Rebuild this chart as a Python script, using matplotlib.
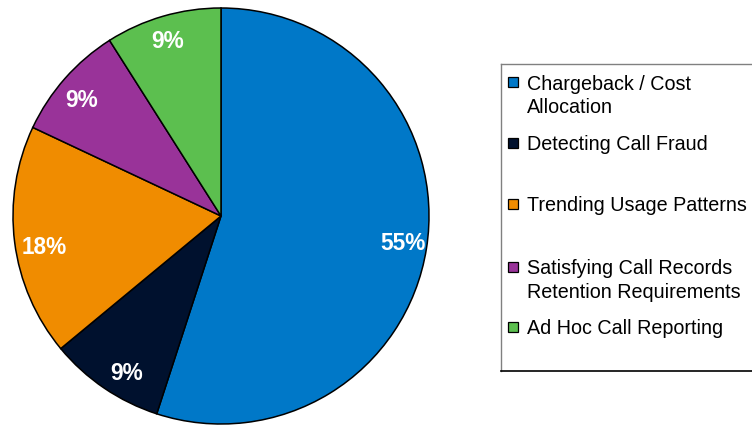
import matplotlib
matplotlib.use("Agg")
import matplotlib.pyplot as plt
from matplotlib.patches import Rectangle
import numpy as np

categories = ["Chargeback / Cost\nAllocation", "Detecting Call Fraud",
              "Trending Usage Patterns", "Satisfying Call Records\nRetention Requirements",
              "Ad Hoc Call Reporting"]
values = [55, 9, 18, 9, 9]
colors = ["#0078C8", "#00112E", "#F08C00", "#993399", "#5CBF4F"]

plt.rcParams['font.family'] = ['Liberation Sans', 'DejaVu Sans']

W, H = 752, 427
fig = plt.figure(figsize=(W/100, H/100), dpi=100)

ax = fig.add_axes([13/W, 2/H, 416/W, 416/H])
wedges, texts, autotexts = ax.pie(values, colors=colors, startangle=90, counterclock=False,
                                  autopct='%1.0f%%', pctdistance=0.88,
                                  wedgeprops=dict(edgecolor='black', linewidth=1.1),
                                  textprops=dict(color='white', fontsize=16.3, fontweight='bold'))
ax.set_xlim(-1, 1); ax.set_ylim(-1, 1)
ax.set_aspect('equal')

# per-label placement tweaks (angle shift deg, distance)
angle_shift = [0.6, 3, 2.5, 1.4, 0.6]
dist = [0.885, 0.88, 0.86, 0.875, 0.88]
total = float(sum(values))
cum = np.concatenate([[0], np.cumsum(values)[:-1]])
for v, c0, t, da, d in zip(values, cum, autotexts, angle_shift, dist):
    mid = 90 - 360 * (c0 + v / 2) / total
    ang = np.deg2rad(mid + da)
    t.set_position((d*np.cos(ang), d*np.sin(ang)))
    t.set_ha('center'); t.set_va('center')

# legend overlay
lax = fig.add_axes([0, 0, 1, 1])
lax.set_xlim(0, W); lax.set_ylim(H, 0)
lax.axis('off')
lax.plot([501, 501], [65, 372], color='#808080', lw=1.0)
lax.plot([501, 760], [65, 65], color='#808080', lw=1.0)
lax.plot([501, 760], [372, 372], color='black', lw=1.2)

text_y = [83, 144, 205, 268, 328]
for lab, c, y in zip(categories, colors, text_y):
    lax.add_patch(Rectangle((508, y - 5), 10, 10, facecolor=c, edgecolor='black', lw=0.9))
    lax.text(527, y - 8.5, lab, fontsize=14.2, va='top', ha='left', color='black',
             linespacing=1.3)

fig.savefig("out.png", dpi=100)
